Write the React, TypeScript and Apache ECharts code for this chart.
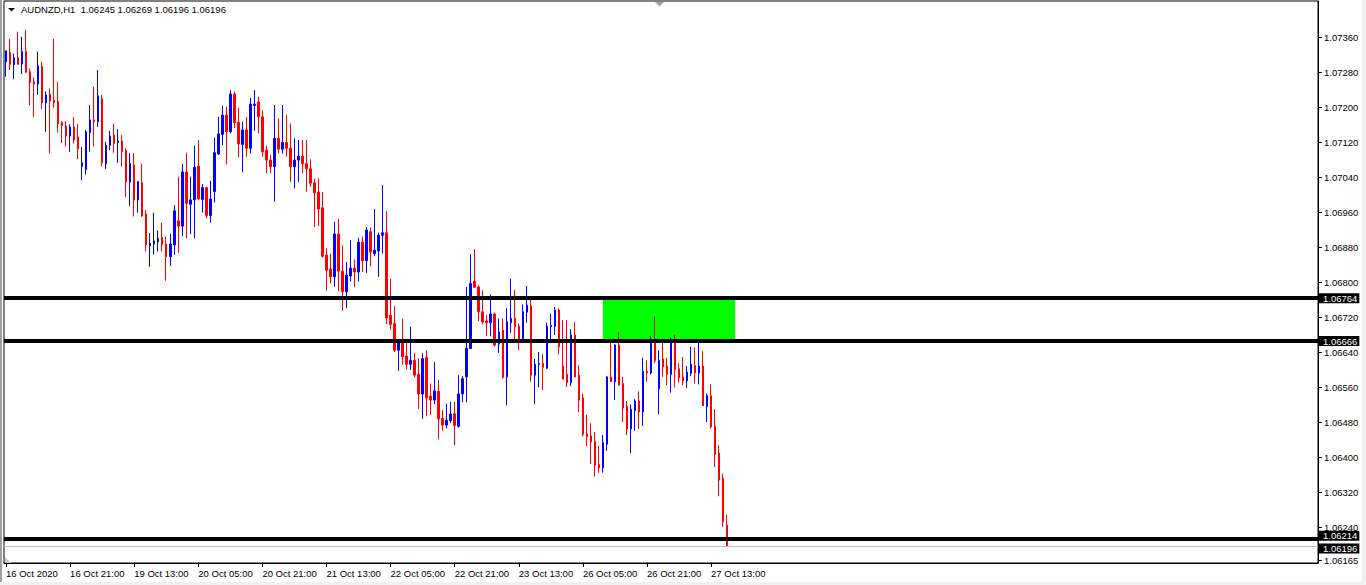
import React, { useEffect, useRef } from "react";
import * as echarts from "echarts";

const FONT = "'Liberation Sans', Arial, sans-serif";

const title = "AUDNZD,H1  1.06245 1.06269 1.06196 1.06196";

const tickLabels = [
  "16 Oct 2020", "16 Oct 21:00", "19 Oct 13:00", "20 Oct 05:00", "20 Oct 21:00", "21 Oct 13:00",
  "22 Oct 05:00", "22 Oct 21:00", "23 Oct 13:00", "26 Oct 05:00", "26 Oct 21:00", "27 Oct 13:00",
];
const tickStep = 16;
const totalSlots = 328;

const priceTicks = [
  1.0624, 1.0632, 1.064, 1.0648, 1.0656, 1.0664, 1.0672, 1.068, 1.0688, 1.0696, 1.0704, 1.0712, 1.072, 1.0728, 1.0736,
];
const bottomTick = 1.06165;
const yMin = 1.0615836;
const yMax = 1.0744396;

const levels = [1.06764, 1.06666, 1.06214];
const bidPrice = 1.06196;
const zoneStart = 149;
const zoneEnd = 182;
const zoneTop = 1.06764;
const zoneBottom = 1.06666;

const opens = [
  1.07305, 1.07326, 1.07298, 1.07314, 1.073, 1.07328, 1.07282, 1.07259, 1.07254, 1.07294,
  1.07211, 1.07231, 1.07217, 1.07214, 1.07166, 1.07158, 1.07135, 1.07156, 1.07133, 1.07066,
  1.07058, 1.07143, 1.07172, 1.07168, 1.0722, 1.07072, 1.07114, 1.07137, 1.0712, 1.07124,
  1.07102, 1.0703, 1.07069, 1.06989, 1.07028, 1.06957, 1.06884, 1.06888, 1.06893, 1.06903,
  1.06888, 1.06859, 1.06886, 1.06941, 1.06929, 1.07053, 1.06979, 1.06989, 1.07066, 1.0699,
  1.07017, 1.06953, 1.07008, 1.07094, 1.07139, 1.07183, 1.07145, 1.07231, 1.07166, 1.07116,
  1.07149, 1.07107, 1.07205, 1.07213, 1.07179, 1.07103, 1.0708, 1.07065, 1.0713, 1.07105,
  1.0712, 1.07107, 1.07065, 1.0708, 1.07089, 1.07072, 1.0706, 1.07028, 1.07007, 1.06971,
  1.06863, 1.06831, 1.06813, 1.06911, 1.06826, 1.06779, 1.06815, 1.06833, 1.06824, 1.06892,
  1.0685, 1.06916, 1.06866, 1.06872, 1.06908, 1.06914, 1.06725, 1.06706, 1.06645, 1.06664,
  1.06632, 1.06613, 1.06622, 1.0659, 1.06545, 1.06629, 1.0654, 1.06531, 1.06551, 1.06489,
  1.06474, 1.06484, 1.065, 1.06471, 1.06545, 1.06584, 1.06649, 1.06803, 1.0679, 1.06733,
  1.06712, 1.06708, 1.06728, 1.06659, 1.06691, 1.06584, 1.06708, 1.06718, 1.067, 1.06667,
  1.06732, 1.06746, 1.06588, 1.06613, 1.06615, 1.06604, 1.06699, 1.067, 1.06737, 1.06609,
  1.0659, 1.06571, 1.0668, 1.06588, 1.06536, 1.06453, 1.06449, 1.06437, 1.06384, 1.06376,
  1.0643, 1.06584, 1.06573, 1.06657, 1.06569, 1.06517, 1.06465, 1.06507, 1.06529, 1.06504,
  1.06597, 1.06593, 1.0667, 1.06557, 1.06625, 1.06609, 1.0659, 1.0667, 1.06603, 1.06584,
  1.06575, 1.06592, 1.0661, 1.06593, 1.06609, 1.06516, 1.06541, 1.06471, 1.0641, 1.06352,
  1.06245,
];

const highs = [
  1.0733, 1.07357, 1.07324, 1.07374, 1.07362, 1.07378, 1.0729, 1.07269, 1.07328, 1.07305,
  1.07237, 1.07244, 1.07357, 1.07259, 1.07169, 1.07169, 1.07162, 1.07179, 1.07163, 1.0711,
  1.07149, 1.07206, 1.07248, 1.07286, 1.07229, 1.07122, 1.07147, 1.07163, 1.07151, 1.07137,
  1.07107, 1.07096, 1.07096, 1.07031, 1.07072, 1.06966, 1.06913, 1.0696, 1.06919, 1.06937,
  1.06905, 1.06911, 1.06977, 1.07042, 1.07071, 1.07097, 1.07042, 1.07113, 1.07126, 1.07025,
  1.07019, 1.07033, 1.07131, 1.07179, 1.07204, 1.07202, 1.0724, 1.07237, 1.072, 1.07168,
  1.07179, 1.07222, 1.0724, 1.07225, 1.07194, 1.07113, 1.07091, 1.07206, 1.07175, 1.07206,
  1.07183, 1.07164, 1.0713, 1.07126, 1.07126, 1.07126, 1.07082, 1.07038, 1.07038, 1.07007,
  1.06878, 1.06866, 1.06939, 1.06945, 1.06885, 1.06847, 1.06897, 1.06853, 1.06902, 1.06905,
  1.06927, 1.06926, 1.06968, 1.06914, 1.07023, 1.06963, 1.06808, 1.06746, 1.0667, 1.06718,
  1.06662, 1.06699, 1.06639, 1.06626, 1.06638, 1.06645, 1.06569, 1.06618, 1.06577, 1.06508,
  1.06523, 1.06527, 1.06527, 1.06588, 1.06586, 1.0679, 1.06865, 1.06876, 1.06794, 1.06782,
  1.06725, 1.06773, 1.06731, 1.06718, 1.06718, 1.06741, 1.06809, 1.06783, 1.06706, 1.0675,
  1.06792, 1.0676, 1.06625, 1.06641, 1.06636, 1.06708, 1.06728, 1.06744, 1.06741, 1.06714,
  1.06714, 1.06693, 1.0671, 1.06611, 1.06546, 1.06497, 1.06478, 1.06458, 1.06426, 1.06451,
  1.06586, 1.0667, 1.06659, 1.06686, 1.06584, 1.06529, 1.06521, 1.06533, 1.06551, 1.06628,
  1.06622, 1.06677, 1.06722, 1.06645, 1.06662, 1.06628, 1.06674, 1.0668, 1.06615, 1.0663,
  1.06609, 1.06653, 1.06651, 1.06666, 1.06643, 1.06546, 1.06567, 1.0651, 1.06428, 1.06362,
  1.06269,
];

const lows = [
  1.07271, 1.07286, 1.07265, 1.07298, 1.07277, 1.0728, 1.07206, 1.07179, 1.07229, 1.07197,
  1.07145, 1.07095, 1.072, 1.07143, 1.07119, 1.07111, 1.07099, 1.07118, 1.07082, 1.07034,
  1.07047, 1.07099, 1.07111, 1.07156, 1.07066, 1.0706, 1.07103, 1.07097, 1.07074, 1.07065,
  1.06996, 1.06975, 1.06951, 1.0696, 1.0695, 1.06871, 1.06836, 1.06864, 1.06871, 1.06871,
  1.06804, 1.06838, 1.06863, 1.06868, 1.06906, 1.06901, 1.06911, 1.06901, 1.06989, 1.0696,
  1.06947, 1.06937, 1.06983, 1.07092, 1.07114, 1.0707, 1.07141, 1.07153, 1.07087, 1.07052,
  1.07088, 1.07095, 1.07147, 1.07141, 1.07088, 1.0705, 1.0705, 1.06985, 1.07095, 1.07095,
  1.07088, 1.0703, 1.07015, 1.0703, 1.0705, 1.07008, 1.07019, 1.06927, 1.06929, 1.06857,
  1.06781, 1.06798, 1.0679, 1.0678, 1.06735, 1.06742, 1.06802, 1.0679, 1.06802, 1.06824,
  1.06822, 1.06837, 1.0686, 1.06813, 1.06866, 1.06705, 1.06692, 1.06641, 1.06598, 1.06612,
  1.06601, 1.066, 1.06583, 1.06511, 1.06488, 1.06494, 1.06497, 1.06522, 1.06441, 1.06461,
  1.06466, 1.06478, 1.06428, 1.06468, 1.06526, 1.06526, 1.06648, 1.06789, 1.06712, 1.06704,
  1.06677, 1.06677, 1.06653, 1.06639, 1.0658, 1.06519, 1.06685, 1.06662, 1.06645, 1.06664,
  1.06708, 1.06573, 1.06522, 1.0656, 1.06554, 1.06602, 1.0667, 1.0668, 1.06636, 1.06579,
  1.06561, 1.06563, 1.06583, 1.06504, 1.06448, 1.06426, 1.06385, 1.06356, 1.06365, 1.06365,
  1.06415, 1.06573, 1.06531, 1.06565, 1.06481, 1.06451, 1.0641, 1.06461, 1.06465, 1.06472,
  1.06573, 1.0659, 1.06616, 1.06499, 1.06584, 1.06565, 1.06548, 1.0656, 1.06571, 1.06565,
  1.06559, 1.06586, 1.06569, 1.06567, 1.06518, 1.06481, 1.06466, 1.06378, 1.06311, 1.06241,
  1.06196,
];

const closes = [
  1.0733, 1.07299, 1.07314, 1.07299, 1.07328, 1.07281, 1.07257, 1.07254, 1.07295, 1.07211,
  1.07229, 1.07215, 1.07211, 1.07163, 1.07159, 1.07135, 1.07156, 1.07126, 1.07106, 1.07074,
  1.07145, 1.07172, 1.07168, 1.07227, 1.07074, 1.07114, 1.07135, 1.07118, 1.07124, 1.07099,
  1.0703, 1.07072, 1.06989, 1.07031, 1.06952, 1.06886, 1.0689, 1.06895, 1.06901, 1.06887,
  1.06859, 1.06888, 1.06964, 1.06929, 1.07053, 1.06981, 1.06989, 1.07064, 1.06991, 1.07017,
  1.06953, 1.06991, 1.07097, 1.0714, 1.07183, 1.07145, 1.07231, 1.07166, 1.07117, 1.07149,
  1.07107, 1.07208, 1.07208, 1.07179, 1.07099, 1.0708, 1.07065, 1.0713, 1.07105, 1.0712,
  1.07107, 1.07065, 1.0708, 1.07089, 1.07072, 1.0706, 1.07027, 1.07005, 1.06968, 1.0686,
  1.06828, 1.06813, 1.06911, 1.06826, 1.06779, 1.06817, 1.06833, 1.06824, 1.06892, 1.0685,
  1.0692, 1.0687, 1.06874, 1.06908, 1.06914, 1.06719, 1.06704, 1.06645, 1.06664, 1.0663,
  1.06613, 1.06622, 1.06588, 1.06545, 1.06626, 1.06536, 1.06531, 1.06552, 1.06488, 1.06474,
  1.06485, 1.06499, 1.06473, 1.06545, 1.0658, 1.06649, 1.06798, 1.06789, 1.06733, 1.0671,
  1.06708, 1.06728, 1.06657, 1.06687, 1.06583, 1.0671, 1.06718, 1.06699, 1.06667, 1.06733,
  1.06748, 1.06588, 1.06613, 1.06615, 1.06606, 1.067, 1.06702, 1.06737, 1.06653, 1.06579,
  1.06571, 1.0668, 1.06584, 1.06531, 1.06453, 1.06447, 1.06436, 1.06382, 1.06376, 1.06434,
  1.06584, 1.06573, 1.06657, 1.06565, 1.06513, 1.06465, 1.0651, 1.06529, 1.06504, 1.06597,
  1.06593, 1.0667, 1.06621, 1.06622, 1.06607, 1.0659, 1.0667, 1.06601, 1.06582, 1.06575,
  1.06595, 1.06613, 1.06593, 1.06609, 1.06518, 1.06541, 1.0647, 1.06407, 1.06348, 1.06253,
  1.06196,
];

export default function App() {
  const ref = useRef<HTMLDivElement>(null);

  useEffect(() => {
    if (!ref.current) return;
    const chart = echarts.init(ref.current, null, { renderer: "svg" });

    const categories = Array.from({ length: totalSlots }, (_, i) =>
      i % tickStep === 0 && i / tickStep < tickLabels.length ? tickLabels[i / tickStep] : ""
    );
    const isTick = (index: number) => categories[index] !== "";
    const candles = opens.map((o, i) => [o, closes[i], lows[i], highs[i]]);

    const boxLabel = (text: string, dy: number) => ({
      show: true,
      position: "end",
      formatter: text,
      backgroundColor: "#000",
      color: "#fff",
      fontSize: 9.5,
      lineHeight: 10,
      fontFamily: FONT,
      padding: [0, 2, 0, 4],
      distance: 1,
      offset: [0, dy],
    });

    chart.setOption({
      animation: false,
      backgroundColor: "#fff",
      textStyle: { fontFamily: FONT },
      grid: {
        left: 4,
        right: 48,
        top: 1,
        bottom: 22,
        show: true,
        borderColor: "#000",
        borderWidth: 1,
        backgroundColor: "#fff",
      },
      xAxis: {
        type: "category",
        data: categories,
        boundaryGap: true,
        axisLine: { show: true, lineStyle: { color: "#000", width: 1 } },
        axisTick: {
          show: true,
          interval: (index: number) => isTick(index),
          alignWithLabel: true,
          length: 4,
          lineStyle: { color: "#000" },
        },
        axisLabel: {
          show: true,
          interval: (index: number) => isTick(index),
          align: "left",
          color: "#000",
          fontSize: 9.5,
          fontFamily: FONT,
          margin: 5,
        },
        splitLine: { show: false },
      },
      yAxis: {
        type: "value",
        position: "right",
        min: yMin,
        max: yMax,
        axisLine: { show: true, lineStyle: { color: "#000", width: 1 } },
        axisTick: {
          show: true,
          length: 4,
          lineStyle: { color: "#000" },
          customValues: [bottomTick, ...priceTicks],
        },
        axisLabel: {
          show: true,
          customValues: [bottomTick, ...priceTicks],
          formatter: (v: number) => v.toFixed(5),
          color: "#000",
          fontSize: 9.5,
          fontFamily: FONT,
          margin: 6,
        },
        splitLine: { show: false },
      },
      graphic: [
        { type: "rect", silent: true, shape: { x: 0, y: 0, width: 2, height: 585 }, style: { fill: "#a0a0a0" } },
        { type: "rect", silent: true, shape: { x: 1362, y: 0, width: 4, height: 585 }, style: { fill: "#f0f0f0" } },
        { type: "rect", silent: true, shape: { x: 0, y: 582, width: 1366, height: 3 }, style: { fill: "#f0f0f0" } },
        { type: "polygon", silent: true, shape: { points: [[8, 8], [15, 8], [11.5, 11.5]] }, style: { fill: "#000" } },
        {
          type: "text",
          silent: true,
          x: 21,
          y: 9.5,
          style: { text: title, fill: "#000", fontSize: 9.5, fontFamily: FONT, verticalAlign: "middle" },
        },
        { type: "polygon", silent: true, shape: { points: [[655, 2], [664, 2], [659.5, 6.5]] }, style: { fill: "#a0a0a0" } },
        { type: "polygon", silent: true, shape: { points: [[5, 557], [5, 563], [11, 563]] }, style: { fill: "#c8c8c8" } },
      ],
      series: [
        {
          type: "candlestick",
          data: candles,
          z: 2,
          barWidth: 2,
          silent: true,
          emphasis: { disabled: true },
          itemStyle: {
            color: "#0000FF",
            color0: "#FF0000",
            borderColor: "#0000FF",
            borderColor0: "#FF0000",
            borderWidth: 1,
          },
          markArea: {
            silent: true,
            z: 1,
            itemStyle: { color: "#00FF00", opacity: 1 },
            data: [[{ xAxis: zoneStart, yAxis: zoneTop }, { xAxis: zoneEnd, yAxis: zoneBottom }]],
          },
          markLine: {
            silent: true,
            z: 5,
            precision: 5,
            symbol: ["none", "none"],
            animation: false,
            data: [
              {
                yAxis: bidPrice,
                lineStyle: { color: "#c0c0c0", width: 1, type: "solid" },
                label: boxLabel(bidPrice.toFixed(5), 2),
              },
              ...levels.map((lv, k) => ({
                yAxis: lv,
                lineStyle: { color: "#000", width: 4, type: "solid" },
                label: boxLabel(lv.toFixed(5), k === levels.length - 1 ? -3 : 0),
              })),
            ],
          },
        },
      ],
    });

    return () => chart.dispose();
  }, []);

  return (
    <div
      ref={ref}
      style={{ position: "fixed", left: 0, top: 0, width: 1366, height: 585, background: "#fff" }}
    />
  );
}
